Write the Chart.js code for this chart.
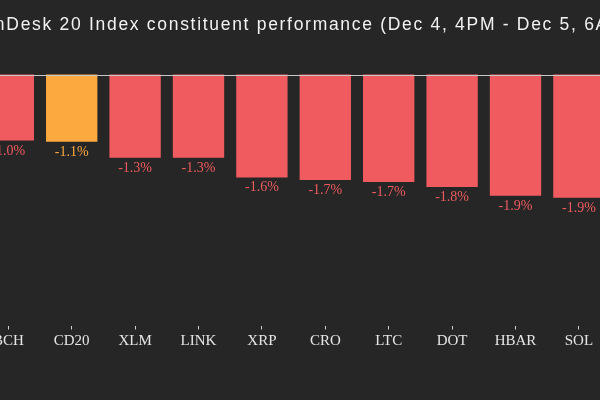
<!DOCTYPE html>
<html>
<head>
<meta charset="utf-8">
<script src="https://cdn.jsdelivr.net/npm/chart.js@4.4.0/dist/chart.umd.min.js"></script>
<style>
    html, body { margin: 0; padding: 0; background: #262626; overflow: hidden; }
    #wrap { position: relative; width: 600px; height: 400px; overflow: hidden; }
    #title {
        position: absolute;
        top: 14px;
        left: -36.5px;
        white-space: nowrap;
        font-family: "Liberation Sans", Arial, sans-serif;
        font-size: 17.5px;
        line-height: 20px;
        letter-spacing: 1.7px;
        color: #f2f2f2;
    }
</style>
</head>
<body>
<div id="wrap">
    <canvas id="perfChart"></canvas>
    <div id="title">CoinDesk 20 Index constituent performance (Dec 4, 4PM - Dec 5, 6AM ET)</div>
</div>
<script>
// Видимая часть графика: категории и изменение цены, %
const categories = ['BCH', 'CD20', 'XLM', 'LINK', 'XRP', 'CRO', 'LTC', 'DOT', 'HBAR', 'SOL'];
const changes = [-1.04, -1.06, -1.31, -1.31, -1.62, -1.66, -1.69, -1.77, -1.91, -1.94];
const indexName = 'CD20';
const yMin = -3.95;
const yMax = 0;

const RED = '#f05b5f';
const ORANGE = '#fca93f';
const barColors = categories.map(c => c === indexName ? ORANGE : RED);

// Подписи значений под столбцами
const valueLabels = {
    id: 'valueLabels',
    afterDatasetsDraw(chart) {
        const ctx = chart.ctx;
        const meta = chart.getDatasetMeta(0);
        ctx.save();
        ctx.font = '14px "Liberation Serif", serif';
        ctx.textAlign = 'center';
        ctx.textBaseline = 'alphabetic';
        meta.data.forEach((bar, i) => {
            ctx.fillStyle = barColors[i];
            ctx.fillText(changes[i].toFixed(1) + '%', bar.x, bar.y + 14);
        });
        ctx.restore();
    }
};

// Нулевая линия на всю ширину
const zeroLine = {
    id: 'zeroLine',
    afterDatasetsDraw(chart) {
        const ctx = chart.ctx;
        const y = Math.round(chart.scales.y.getPixelForValue(0)) + 0.5;
        ctx.save();
        ctx.strokeStyle = '#c8c8c8';
        ctx.lineWidth = 1.2;
        ctx.beginPath();
        ctx.moveTo(0, y);
        ctx.lineTo(chart.width, y);
        ctx.stroke();
        ctx.restore();
    }
};

new Chart(document.getElementById('perfChart'), {
    type: 'bar',
    data: {
        labels: categories,
        datasets: [{
            data: changes,
            backgroundColor: barColors,
            borderWidth: 0,
            barPercentage: 0.81,
            categoryPercentage: 1.0,
            clip: false
        }]
    },
    options: {
        responsive: true,
        maintainAspectRatio: false,
        animation: false,
        layout: {
            padding: { left: 8.3, right: 21.1, top: 74.5, bottom: 46.5 }
        },
        plugins: {
            legend: { display: false },
            tooltip: { enabled: false },
            title: { display: false }
        },
        scales: {
            x: {
                offset: false,
                border: { display: false },
                grid: {
                    offset: false,
                    drawOnChartArea: false,
                    drawTicks: true,
                    tickLength: 4,
                    color: '#d0d0d0'
                },
                ticks: {
                    color: '#e6e6e6',
                    padding: 3,
                    maxRotation: 0,
                    autoSkip: false,
                    font: { family: '"Liberation Serif", serif', size: 15 }
                },
                afterFit(scale) {
                    scale.paddingLeft = 0;
                    scale.paddingRight = 0;
                }
            },
            y: {
                display: false,
                min: yMin,
                max: yMax
            }
        }
    },
    plugins: [valueLabels, zeroLine]
});
</script>
</body>
</html>
